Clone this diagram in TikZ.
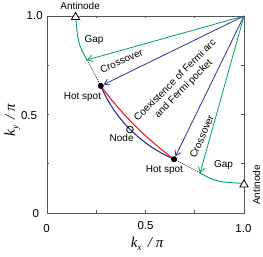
\documentclass[tikz,border=0pt]{standalone}
\usepackage{fontspec}
\setmainfont{Liberation Sans}
\newfontfamily\tnr{Liberation Serif}
\usetikzlibrary{arrows.meta,shapes.geometric}
\definecolor{fgreen}{RGB}{0,166,81}
\definecolor{fblue}{RGB}{46,49,146}
\definecolor{fred}{RGB}{237,28,36}
\definecolor{fframe}{RGB}{85,85,85}
\begin{document}
\begin{tikzpicture}[x=197pt,y=197pt,
 lbl/.style={font=\fontsize{10}{11.8}\selectfont, inner sep=0pt},
 ticklbl/.style={font=\fontsize{11.5}{13}\selectfont, inner sep=0pt},
 axlbl/.style={font=\fontsize{15}{17}\tnr\itshape, inner sep=0pt},
 arr/.style={line width=0.8pt, -{Straight Barb[length=5pt,width=6.5pt]}},
 hot/.style={circle, fill=black, minimum size=6pt, inner sep=0pt},
 tri/.style={regular polygon, regular polygon sides=3, minimum size=9.6pt, inner sep=0pt, draw=black, line width=0.8pt, fill=white},
 nodemark/.style={circle, draw=black, line width=0.8pt, minimum size=6.6pt, inner sep=0pt},
 fs/.style={line width=1.1pt},
 dotline/.style={line width=0.8pt, dash pattern=on 0.8pt off 1.4pt},
 tick/.style={fframe, line width=0.7pt}
]
\useasboundingbox (-47pt,-44pt) rectangle (216pt,213pt);
% frame and ticks
\draw[fframe, line width=0.9pt] (0,0) rectangle (1,1);
\foreach \t in {0.25,0.5,0.75}{
  \draw[tick] (\t,0) -- ++(0,2.5pt);
  \draw[tick] (\t,1) -- ++(0,-2.5pt);
  \draw[tick] (0,\t) -- ++(2.5pt,0);
  \draw[tick] (1,\t) -- ++(-2.5pt,0);
}
% tick labels
\node[ticklbl] (y10) at (-0.0625,1) {1.0};
\node[ticklbl] (y05) at (-0.091,0.497) {0.5};
\node[ticklbl] (y00) at (-0.057,-0.003) {0};
\node[ticklbl] (x00) at (-0.002,-0.08) {0};
\node[ticklbl] (x05) at (0.5,-0.063) {0.5};
\node[ticklbl] (x10) at (0.997,-0.078) {1.0};
% axis labels
\node[axlbl] (xl) at (0.508,-0.155) {k\raisebox{-0.5ex}{\fontsize{9.5}{10}\selectfont x}\, / π};
\node[axlbl, rotate=90] (yl) at (-0.176,0.472) {k\raisebox{-0.5ex}{\fontsize{9.5}{10}\selectfont y}\, / π};
% key points
\coordinate (corner) at (1,1);
\coordinate (a1) at (0.145,1);
\coordinate (a2) at (1,0.15);
\coordinate (g1) at (0.203,0.777);
\coordinate (g2) at (0.777,0.203);
\coordinate (ch1) at (0.273,0.645);
\coordinate (ch2) at (0.645,0.273);
\coordinate (nd) at (0.421,0.424);
% Fermi surface pieces
\draw[fgreen, line width=0.9pt] (a1) .. controls (0.158,0.86) .. (g1);
\draw[fgreen, line width=0.9pt] (g2) .. controls (0.86,0.158) .. (a2);
\draw[dotline] (g1) -- (ch1);
\draw[dotline] (ch2) -- (g2);
\draw[fblue, fs] (ch1) arc[start angle=203.1, end angle=246.9, radius=138.7pt];
\draw[fred, fs] (ch1) arc[start angle=216.4, end angle=233.6, radius=346.3pt];
% markers
\node[hot] (h1) at (ch1) {};
\node[hot] (h2) at (ch2) {};
\node[nodemark] (nm) at (nd) {};
\node[tri] (an1) at ([yshift=-1.2pt]a1) {};
\node[tri] (an2) at ([yshift=-1.2pt]a2) {};
% arrows
\draw[arr, fgreen] (corner) -- (g1);
\draw[arr, fblue] (corner) -- (h1);
\draw[arr, fblue] (corner) -- (h2);
\draw[arr, fgreen] (corner) -- (g2);
% labels
\node[lbl] (t1) at (0.168,1.052) {Antinode};
\node[lbl] (t2) at (0.239,0.878) {Gap};
\node[lbl, rotate=24] (t3) at (0.378,0.772) {Crossover};
\node[lbl] (t4) at (0.180,0.586) {Hot spot};
\node[lbl] (t5) at (0.379,0.383) {Node};
\node[lbl] (t6) at (0.596,0.218) {Hot spot};
\node[lbl] (t7) at (0.896,0.241) {Gap};
\node[lbl, rotate=66] (t8) at (0.786,0.388) {Crossover};
\node[lbl, rotate=90] (t9) at (1.064,0.142) {Antinode};
\node[lbl, rotate=45, align=center] (t10) at (0.673,0.651) {Coexistence of Fermi arc\\and Fermi pocket};
\end{tikzpicture}
\end{document}
